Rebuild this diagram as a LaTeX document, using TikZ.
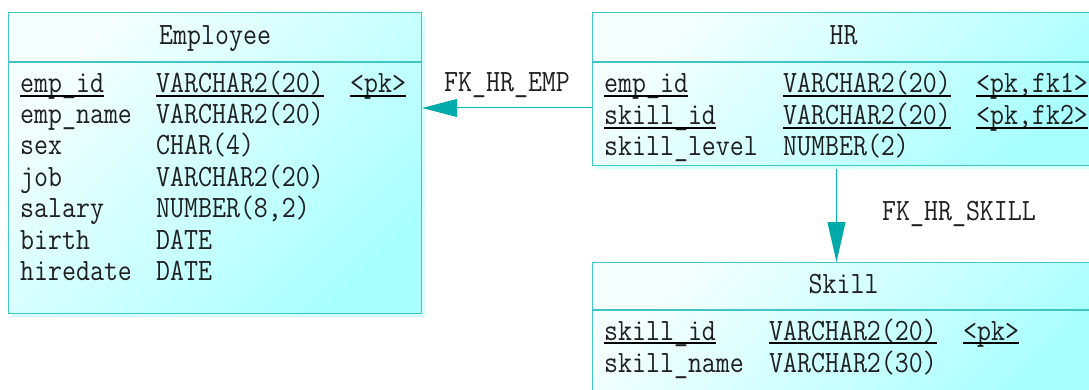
\documentclass[tikz,border=0pt]{standalone}
\usepackage{fontspec}
\newfontfamily\erfont{Latin Modern Mono}[FakeStretch=0.875]
\usetikzlibrary{arrows.meta,shadows}
\definecolor{bline}{RGB}{64,196,196}
\definecolor{afill}{RGB}{0,170,168}
\definecolor{aline}{RGB}{0,182,182}
\definecolor{shadeA}{RGB}{246,255,255}
\definecolor{shadeB}{RGB}{170,255,255}
\definecolor{shad}{RGB}{215,255,255}
\tikzset{
  box/.style={rectangle, draw=bline, line width=1.2pt, top color=shadeA, bottom color=shadeB, shading angle=45, inner sep=0pt, anchor=north west,
    drop shadow={shadow xshift=3pt, shadow yshift=-3pt, fill=shad, opacity=1}},
  sepline/.style={draw=bline, line width=1.2pt},
  txt/.style={anchor=base west, inner sep=0pt, font=\erfont\fontsize{31}{31}\selectfont, text=black!88},
  ttl/.style={anchor=base, inner sep=0pt, font=\erfont\fontsize{31}{31}\selectfont, text=black!88},
  ul/.style={draw=black, line width=1.3pt},
  fk/.style={draw=aline, line width=1pt, -{Triangle[length=35pt,width=18pt,color=afill]}},
  fkv/.style={draw=aline, line width=1pt, -{Triangle[length=40pt,width=18pt,color=afill]}},
}
\begin{document}
\begin{tikzpicture}[x=1pt,y=-1pt]
\useasboundingbox (0,0) rectangle (1089,390);
\clip (0,0) rectangle (1089,390);
% boxes
\node[box, minimum width=413pt, minimum height=301pt] (emp) at (8,12) {};
\node[box, minimum width=502pt, minimum height=153pt] (hr) at (592,12) {};
\node[box, minimum width=502pt, minimum height=140pt] (skill) at (592,262) {};
\draw[sepline] (emp.west |- 0,62) -- (emp.east |- 0,62);
\draw[sepline] (hr.west |- 0,62) -- (hr.east |- 0,62);
\draw[sepline] (skill.west |- 0,310) -- (skill.east |- 0,310);
% titles
\node[ttl] (empT) at (emp.north |- 0,45) {Employee};
\node[ttl] (hrT) at (hr.north |- 0,45) {HR};
\node[ttl] (skT) at (skill.north |- 0,293) {Skill};
% Employee rows
\node[txt] (e1n) at (20,93) {emp\_id};
\node[txt] (e1t) at (156,93) {VARCHAR2(20)};
\node[txt] (e1k) at (350,93) {<pk>};
\node[txt] (e2n) at (20,124) {emp\_name};
\node[txt] (e2t) at (156,124) {VARCHAR2(20)};
\node[txt] (e3n) at (20,155) {sex};
\node[txt] (e3t) at (156,155) {CHAR(4)};
\node[txt] (e4n) at (20,186) {job};
\node[txt] (e4t) at (156,186) {VARCHAR2(20)};
\node[txt] (e5n) at (20,217) {salary};
\node[txt] (e5t) at (156,217) {NUMBER(8,2)};
\node[txt] (e6n) at (20,249) {birth};
\node[txt] (e6t) at (156,249) {DATE};
\node[txt] (e7n) at (20,280) {hiredate};
\node[txt] (e7t) at (156,280) {DATE};
% HR rows
\node[txt] (h1n) at (604,93) {emp\_id};
\node[txt] (h1t) at (783,93) {VARCHAR2(20)};
\node[txt] (h1k) at (976,93) {<pk,fk1>};
\node[txt] (h2n) at (604,125) {skill\_id};
\node[txt] (h2t) at (783,125) {VARCHAR2(20)};
\node[txt] (h2k) at (976,125) {<pk,fk2>};
\node[txt] (h3n) at (604,156) {skill\_level};
\node[txt] (h3t) at (783,156) {NUMBER(2)};
% Skill rows
\node[txt] (s1n) at (604,340) {skill\_id};
\node[txt] (s1t) at (769,340) {VARCHAR2(20)};
\node[txt] (s1k) at (963,340) {<pk>};
\node[txt] (s2n) at (604,372) {skill\_name};
\node[txt] (s2t) at (769,372) {VARCHAR2(30)};
% underlines
\foreach \n in {e1n,e1t,e1k,h1n,h1t,h1k,h2n,h2t,h2k,s1n,s1t,s1k}
  \draw[ul] ([yshift=-3pt]\n.base west) -- ([yshift=-3pt]\n.base east);
% connectors
\draw[fk] (hr.west |- 0,108) -- (emp.east |- 0,108);
\draw[fkv] ([yshift=-3pt]hr.south -| 836.5,0) -- (skill.north -| 836.5,0);
% labels
\node[txt] (l1) at (444,92) {FK\_HR\_EMP};
\node[txt] (l2) at (882,221) {FK\_HR\_SKILL};
\end{tikzpicture}
\end{document}
